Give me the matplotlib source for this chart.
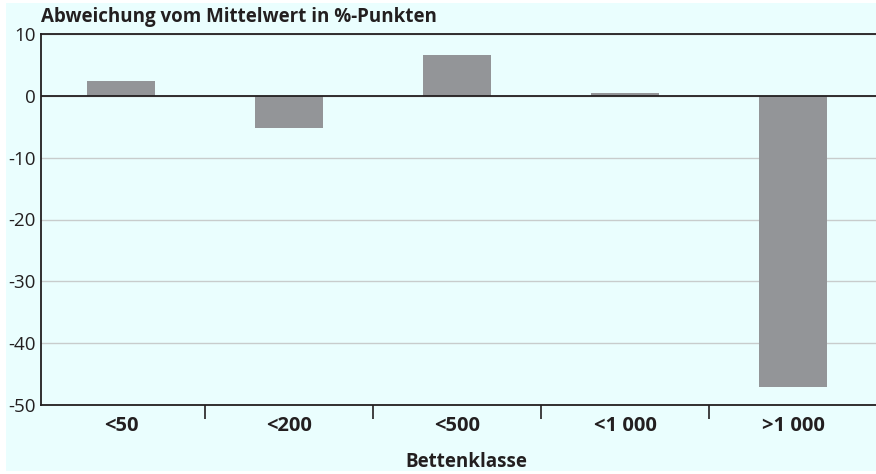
import numpy as np
import matplotlib.pyplot as plt
from matplotlib.patches import Rectangle

# Data
kategorien = ['<50', '<200', '<500', '<1 000', '>1 000']
abweichung = [2.4, -5.2, 6.6, 0.4, -47.1]
y_ticks = [10, 0, -10, -20, -30, -40, -50]

bg = '#eafefe'
bar_col = '#939598'

plt.rcParams['font.family'] = ['Open Sans', 'DejaVu Sans']

fig = plt.figure(figsize=(8.76, 4.74), dpi=100, facecolor='white')
fig.patches.append(Rectangle((6 / 876, 3 / 474), 870 / 876, 468 / 474,
                             transform=fig.transFigure, facecolor=bg,
                             edgecolor='none', zorder=-10))

ax = fig.add_axes([41 / 876, 1 - 405 / 474, 840 / 876, 371 / 474])
ax.set_facecolor(bg)

x = np.arange(len(kategorien))
ax.bar(x, abweichung, width=0.405, color=bar_col, zorder=3)

ax.set_xlim(-0.476, len(kategorien) - 0.476)
ax.set_ylim(-50, 10)

# Gitter
for t in y_ticks:
    ax.axhline(t, color='#c8cccc', lw=1.0, zorder=1)
ax.axhline(0, color='#231f20', lw=1.3, zorder=4)

ax.set_yticks(y_ticks)
ax.set_yticklabels([str(t) for t in y_ticks], fontsize=13.5, color='#231f20')
ax.tick_params(axis='y', length=0, pad=4)

# x-Achse: Striche zwischen den Klassen
ax.set_xticks(x[:-1] + 0.5)
ax.set_xticklabels([])
ax.tick_params(axis='x', length=10, width=1.2, color='#231f20', direction='out')
ax.set_xticks(x, minor=True)
ax.set_xticklabels(kategorien, minor=True, fontsize=14.5, fontweight='bold', color='#231f20')
ax.tick_params(axis='x', which='minor', length=0, pad=8)

for s in ['left', 'bottom', 'top']:
    ax.spines[s].set_color('#231f20')
    ax.spines[s].set_linewidth(1.3)
ax.spines['right'].set_visible(False)

fig.text(41 / 876, 1 - 17 / 474, 'Abweichung vom Mittelwert in %-Punkten',
         fontsize=13.5, fontweight='bold', color='#231f20', va='center', ha='left')
fig.text(466 / 876, 1 - 462 / 474, 'Bettenklasse',
         fontsize=13.5, fontweight='bold', color='#231f20', va='center', ha='center')

plt.savefig('out.png', dpi=100, facecolor='white')
